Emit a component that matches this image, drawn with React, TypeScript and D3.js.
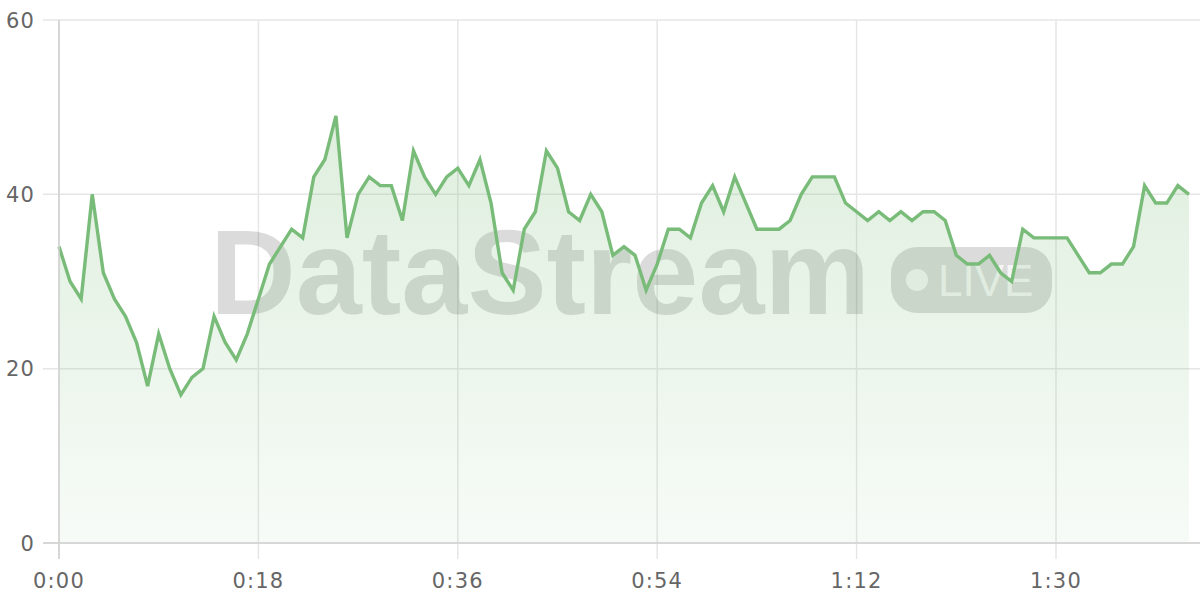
import React from "react";
import * as d3 from "d3";

const seconds: number[] = Array.from({ length: 103 }, (_, i) => i);
const values: number[] = [
  34, 30, 28, 40, 31, 28, 26, 23, 18, 24,
  20, 17, 19, 20, 26, 23, 21, 24, 28, 32,
  34, 36, 35, 42, 44, 49, 35, 40, 42, 41,
  41, 37, 45, 42, 40, 42, 43, 41, 44, 39,
  31, 29, 36, 38, 45, 43, 38, 37, 40, 38,
  33, 34, 33, 29, 32, 36, 36, 35, 39, 41,
  38, 42, 39, 36, 36, 36, 37, 40, 42, 42,
  42, 39, 38, 37, 38, 37, 38, 37, 38, 38,
  37, 33, 32, 32, 33, 31, 30, 36, 35, 35,
  35, 35, 33, 31, 31, 32, 32, 34, 41, 39,
  39, 41, 40,
];
const yTicks: number[] = [0, 20, 40, 60];
const xTicks: number[] = [0, 18, 36, 54, 72, 90];

const W = 1200;
const H = 600;
const left = 59;
const right = 1200;
const top = 20;
const bottom = 543;
const FONT = "'DejaVu Sans', 'Open Sans', sans-serif";
const GREEN = "#79bc79";

function fmt(s: number): string {
  const m = Math.floor(s / 60);
  const r = s % 60;
  return `${m}:${r < 10 ? "0" : ""}${r}`;
}

export default function App() {
  const x = d3.scaleLinear().domain([0, 103]).range([left, right]);
  const y = d3.scaleLinear().domain([0, 60]).range([bottom, top]);
  const data = seconds.map((s, i) => ({ s, v: values[i] }));
  const line = d3
    .line<{ s: number; v: number }>()
    .x((d) => x(d.s))
    .y((d) => y(d.v));
  const area = d3
    .area<{ s: number; v: number }>()
    .x((d) => x(d.s))
    .y0(y(0))
    .y1((d) => y(d.v));

  return (
    <svg
      width={W}
      height={H}
      style={{ position: "absolute", left: 0, top: 0, background: "#fff" }}
    >
      <defs>
        <linearGradient id="fillGrad" x1="0" y1={y(50)} x2="0" y2={y(0)} gradientUnits="userSpaceOnUse">
          <stop offset="0" stopColor={GREEN} stopOpacity={0.25} />
          <stop offset="1" stopColor={GREEN} stopOpacity={0.06} />
        </linearGradient>
      </defs>
      <rect x={0} y={0} width={W} height={H} fill="#fff" />
      {/* grid */}
      {yTicks.map((t) => (
        <line key={"gy" + t} x1={43} x2={right} y1={y(t)} y2={y(t)} stroke="#e6e6e6" strokeWidth={1.5} />
      ))}
      {xTicks.map((t) => (
        <line key={"gx" + t} x1={x(t)} x2={x(t)} y1={top} y2={bottom + 16} stroke="#e6e6e6" strokeWidth={1.5} />
      ))}
      {/* watermark */}
      <g>
        <text
          x={210}
          y={314}
          fontFamily="'Liberation Sans', Arial, sans-serif"
          fontWeight="bold"
          fontSize={121}
          fill="rgba(0,0,0,0.14)"
          textLength={660}
          lengthAdjust="spacingAndGlyphs"
        >
          DataStream
        </text>
        <rect x={891} y={247} width={161} height={66} rx={26} fill="rgba(0,0,0,0.14)" />
        <circle cx={917} cy={280} r={11} fill="rgba(255,255,255,0.75)" />
        <text
          x={938}
          y={296}
          fontFamily="'Liberation Sans', Arial, sans-serif"
          fontSize={44}
          fill="rgba(255,255,255,0.75)"
        >
          LIVE
        </text>
      </g>
      {/* area + line */}
      <path d={area(data) || ""} fill="url(#fillGrad)" />
      <path d={line(data) || ""} fill="none" stroke={GREEN} strokeWidth={3.4} strokeLinejoin="miter" />
      {/* axes */}
      <line x1={left} x2={left} y1={top} y2={bottom + 16} stroke="#d0d0d0" strokeWidth={1.5} />
      <line x1={43} x2={right} y1={bottom} y2={bottom} stroke="#d0d0d0" strokeWidth={1.5} />
      {yTicks.map((t) => (
        <text
          key={"ty" + t}
          x={35}
          y={y(t)}
          dy="0.36em"
          textAnchor="end"
          fontFamily={FONT}
          fontSize={21}
          letterSpacing={1.2}
          fill="#666"
        >
          {t}
        </text>
      ))}
      {xTicks.map((t) => (
        <text
          key={"tx" + t}
          x={x(t)}
          y={588}
          textAnchor="middle"
          fontFamily={FONT}
          fontSize={21}
          letterSpacing={1.2}
          fill="#666"
        >
          {fmt(t)}
        </text>
      ))}
    </svg>
  );
}
